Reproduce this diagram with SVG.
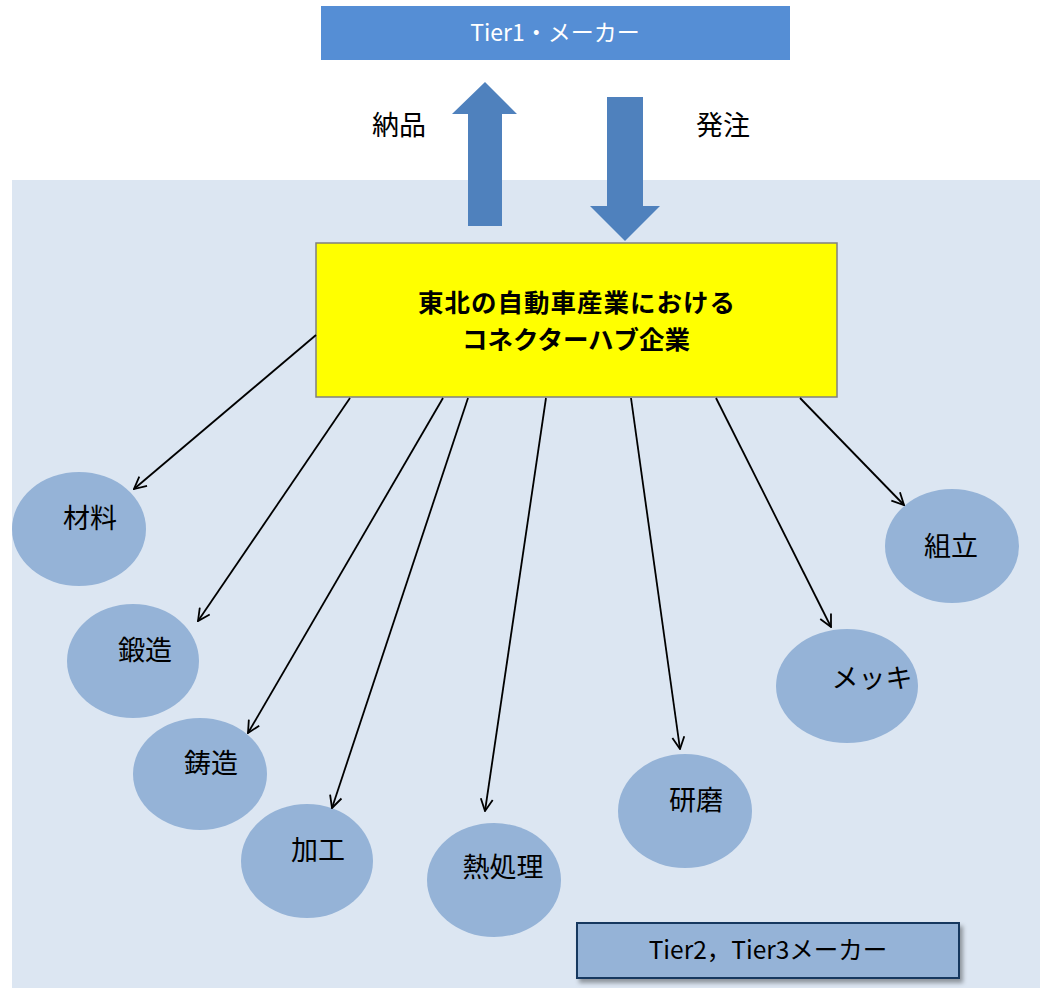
<svg xmlns="http://www.w3.org/2000/svg" width="1040" height="988" viewBox="0 0 1040 988">
<style>
text{font-family:"Noto Sans CJK JP","Noto Sans",sans-serif;fill:#000}
.lbl{font-size:27px;text-anchor:middle}
.el{fill:#95b3d7}
.con{stroke:#000;stroke-width:1.8;fill:none;marker-end:url(#ah)}
.big{fill:#4f81bd}
</style>
<defs>
<marker id="ah" viewBox="0 0 14 14" refX="13" refY="7" markerWidth="14" markerHeight="14" orient="auto" markerUnits="userSpaceOnUse">
<path d="M1,1 L13,7 L1,13" fill="none" stroke="#000" stroke-width="1.8"/>
</marker>
<filter id="sh" x="-10%" y="-30%" width="130%" height="170%">
<feDropShadow dx="3" dy="4" stdDeviation="2" flood-color="#000" flood-opacity="0.35"/>
</filter>
</defs>
<rect x="0" y="0" width="1040" height="988" fill="#fff"/>
<rect id="panel" x="12" y="180" width="1028" height="808" fill="#dce6f2"/>
<g id="tier1">
<rect x="321" y="6" width="469" height="54" fill="#558ed5"/>
<text x="555" y="41" style="font-size:23px;fill:#fff;text-anchor:middle">Tier1・メーカー</text>
</g>
<g id="deliver">
<polygon class="big" points="468,226 468,114 452,114 485,82 517,114 502,114 502,226"/>
<text x="399" y="135" style="font-size:27px;text-anchor:middle">納品</text>
</g>
<g id="order">
<polygon class="big" points="607,97 643,97 643,206 660,206 625,241 590,206 607,206"/>
<text x="723" y="135" style="font-size:27px;text-anchor:middle">発注</text>
</g>
<g id="hub">
<rect x="316" y="243" width="521" height="154" fill="#ffff00" stroke="#808080" stroke-width="1.5"/>
<text x="577" y="312" style="font-size:25.5px;font-weight:bold;text-anchor:middle;letter-spacing:1px">東北の自動車産業における</text>
<text x="576" y="349" style="font-size:25.5px;font-weight:bold;text-anchor:middle">コネクターハブ企業</text>
</g>
<g id="n-zairyo"><ellipse class="el" cx="79" cy="529" rx="67" ry="57"/><text class="lbl" x="90" y="528">材料</text></g>
<g id="n-tanzo"><ellipse class="el" cx="133" cy="661" rx="66" ry="57"/><text class="lbl" x="145" y="660">鍛造</text></g>
<g id="n-chuzo"><ellipse class="el" cx="200" cy="774" rx="67" ry="56"/><text class="lbl" x="211" y="773">鋳造</text></g>
<g id="n-kako"><ellipse class="el" cx="307" cy="861" rx="66" ry="57"/><text class="lbl" x="318" y="860">加工</text></g>
<g id="n-netsu"><ellipse class="el" cx="494" cy="880" rx="67" ry="57"/><text class="lbl" x="503" y="877">熱処理</text></g>
<g id="n-kenma"><ellipse class="el" cx="685" cy="811" rx="67" ry="57"/><text class="lbl" x="696" y="810">研磨</text></g>
<g id="n-mekki"><ellipse class="el" cx="847" cy="686" rx="71" ry="57"/><text class="lbl" x="872" y="688">メッキ</text></g>
<g id="n-kumitate"><ellipse class="el" cx="952" cy="546" rx="67" ry="57"/><text class="lbl" x="951" y="556">組立</text></g>
<g id="connectors">
<line class="con" x1="316" y1="335" x2="134" y2="489"/>
<line class="con" x1="350" y1="398" x2="198" y2="621"/>
<line class="con" x1="443" y1="398" x2="248" y2="733"/>
<line class="con" x1="468" y1="398" x2="332" y2="808"/>
<line class="con" x1="546" y1="398" x2="485" y2="811"/>
<line class="con" x1="631" y1="398" x2="680" y2="749"/>
<line class="con" x1="716" y1="398" x2="831" y2="627"/>
<line class="con" x1="800" y1="398" x2="904" y2="505"/>
</g>
<g id="tier23">
<rect x="577" y="923" width="382" height="55" fill="#95b3d7" stroke="#17375e" stroke-width="2" filter="url(#sh)"/>
<text x="768" y="959" style="font-size:24.5px;text-anchor:middle">Tier2，Tier3メーカー</text>
</g>
</svg>
